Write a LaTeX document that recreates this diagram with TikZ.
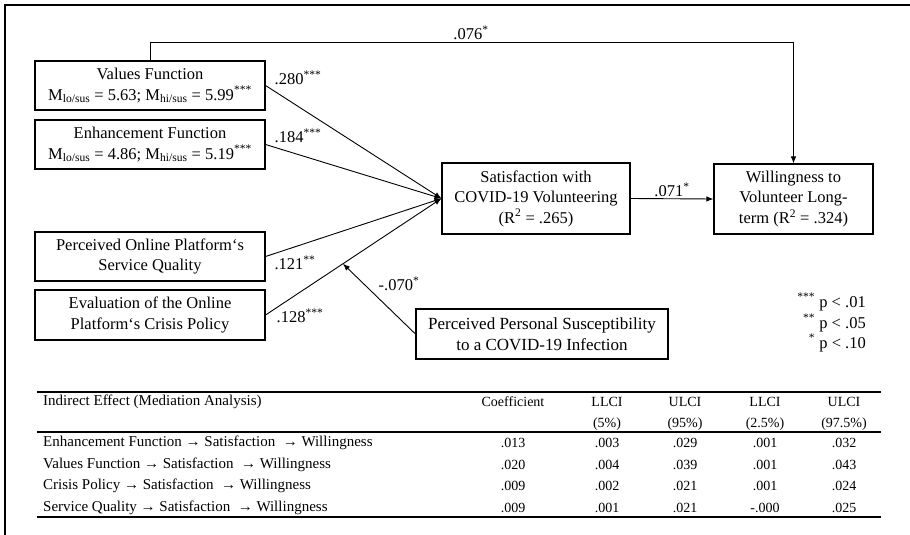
\documentclass[tikz,border=0pt]{standalone}
\usepackage{fontspec}
\setmainfont{Liberation Serif}
\usetikzlibrary{arrows.meta,calc}
\begin{document}
\begin{tikzpicture}[x=1pt,y=-1pt,
  box/.style={draw,line width=1.1pt,align=center,inner sep=0pt,font=\fontsize{16.5}{20.5}\selectfont},
  arr/.style={line width=0.9pt,-{Latex[length=7pt,width=5.5pt]}},
  lbl/.style={font=\fontsize{16.5}{20}\selectfont,inner sep=0pt},
  tab/.style={font=\fontsize{14}{17}\selectfont,inner sep=0pt},
  tabl/.style={font=\fontsize{15}{17}\selectfont,inner sep=0pt,anchor=west},
  rule/.style={line width=1.4pt}]
\useasboundingbox (0,0) rectangle (910,535);
% frame (only top and left edges visible)
\coordinate (fbl) at (5,535);
\coordinate (ftl) at (5,5);
\coordinate (ftr) at (910,5);
\draw[line width=1.2pt] (fbl) -- (ftl) -- (ftr);

% boxes
\node[box,minimum width=230pt,minimum height=49pt] (val) at (150,85.5)
  {Values Function\\M\textsubscript{lo/sus} = 5.63; M\textsubscript{hi/sus} = 5.99\textsuperscript{***}};
\node[box,minimum width=230pt,minimum height=49pt] (enh) at (150,144.5)
  {Enhancement Function\\M\textsubscript{lo/sus} = 4.86; M\textsubscript{hi/sus} = 5.19\textsuperscript{***}};
\node[box,minimum width=230pt,minimum height=49pt] (svc) at (150,256.5)
  {Perceived Online Platform‘s\\Service Quality};
\node[box,minimum width=230pt,minimum height=50pt] (cri) at (150,315)
  {Evaluation of the Online\\Platform‘s Crisis Policy};
\node[box,minimum width=252pt,minimum height=50pt,font=\fontsize{17}{20.5}\selectfont] (sus) at (542,334)
  {Perceived Personal Susceptibility\\to a COVID-19 Infection};
\node[box,minimum width=188pt,minimum height=71pt] (sat) at (536,198.5)
  {Satisfaction with\\COVID-19 Volunteering\\(R\textsuperscript{2} = .265)};
\node[box,minimum width=159pt,minimum height=70pt] (wil) at (793.5,199)
  {Willingness to\\Volunteer Long-\\term (R\textsuperscript{2} = .324)};

% paths
\draw[arr] (val.east) -- (sat.west);
\draw[arr] (enh.east) -- (sat.west);
\draw[arr] (svc.east) -- (sat.west);
\draw[arr] (cri.east) -- (sat.west);
\coordinate (mod) at ($(cri.east)!0.44!(sat.west)$);
\draw[arr] (sus.west) -- (mod);
\draw[arr] (sat.east) -- (wil.west);
\coordinate (top) at (150,42);
\draw[arr] (val.north) -- (top) -| (wil.north);

% path labels
\node[lbl] (l076) at (471,33) {.076\textsuperscript{*}};
\node[lbl] (l280) at (298,78) {.280\textsuperscript{***}};
\node[lbl] (l184) at (298,136) {.184\textsuperscript{***}};
\node[lbl] (l121) at (295,263) {.121\textsuperscript{**}};
\node[lbl] (l128) at (300,316) {.128\textsuperscript{***}};
\node[lbl] (l070) at (399,284) {-.070\textsuperscript{*}};
\node[lbl] (l071) at (672,190) {.071\textsuperscript{*}};

% legend
\node[lbl,anchor=east] (p1) at (866,302) {\textsuperscript{***} p < .01};
\node[lbl,anchor=east] (p2) at (866,323) {\textsuperscript{**} p < .05};
\node[lbl,anchor=east] (p3) at (866,343) {\textsuperscript{*} p < .10};

% table
\coordinate (r1a) at (37,392); \coordinate (r1b) at (881,392);
\coordinate (r2a) at (37,432); \coordinate (r2b) at (881,432);
\coordinate (r3a) at (37,517); \coordinate (r3b) at (881,517);
\draw[rule] (r1a) -- (r1b);
\draw[rule] (r2a) -- (r2b);
\draw[rule] (r3a) -- (r3b);
\node[tabl] (th) at (43,402) {Indirect Effect (Mediation Analysis)};
\node[tab] (tc) at (513,402) {Coefficient};
\node[tab] (tl1) at (607,402) {LLCI};
\node[tab] (tu1) at (685,402) {ULCI};
\node[tab] (tl2) at (765,402) {LLCI};
\node[tab] (tu2) at (844,402) {ULCI};
\node[tab] (tl1b) at (607,424) {(5\%)};
\node[tab] (tu1b) at (685,424) {(95\%)};
\node[tab] (tl2b) at (765,424) {(2.5\%)};
\node[tab] (tu2b) at (844,424) {(97.5\%)};
\foreach \y/\n/\a/\b/\c/\d/\e/\lab in {
  443/1/.013/.003/.029/.001/.032/Enhancement Function,
  464.5/2/.020/.004/.039/.001/.043/Values Function,
  486/3/.009/.002/.021/.001/.024/Crisis Policy,
  507.5/4/.009/.001/.021/-.000/.025/Service Quality}{
  \node[tabl] (rl\n) at (43,\y) {\lab{} → Satisfaction \ → Willingness};
  \node[tab] (ra\n) at (513,\y) {\a};
  \node[tab] (rb\n) at (607,\y) {\b};
  \node[tab] (rc\n) at (685,\y) {\c};
  \node[tab] (rd\n) at (765,\y) {\d};
  \node[tab] (re\n) at (844,\y) {\e};
}
\end{tikzpicture}
\end{document}
